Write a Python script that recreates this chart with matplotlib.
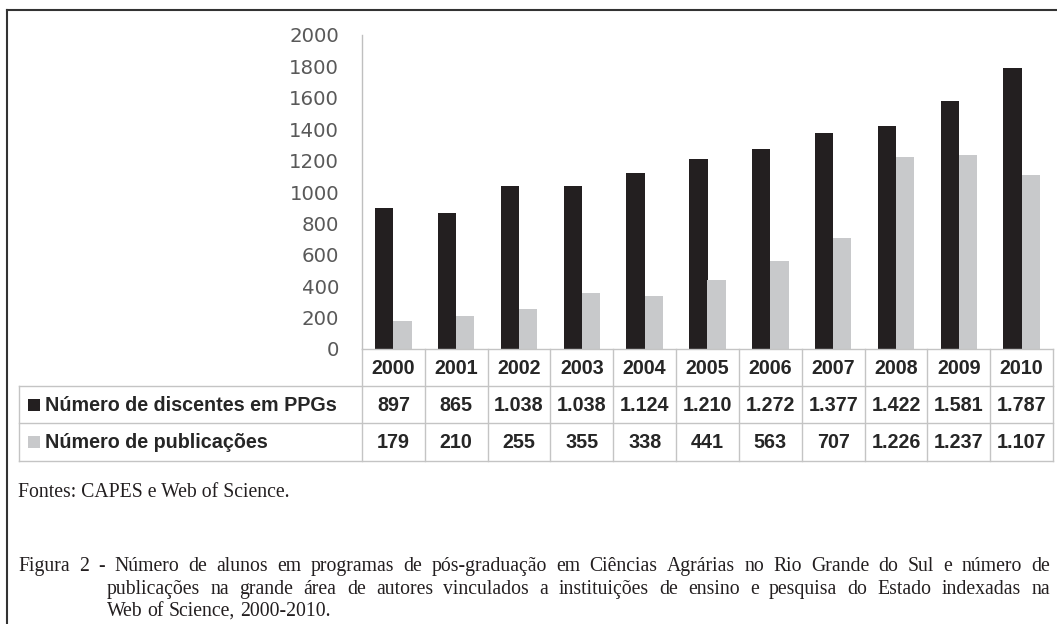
import matplotlib
matplotlib.use("Agg")
import matplotlib.pyplot as plt
from matplotlib import font_manager
from matplotlib.patches import Rectangle
from matplotlib.lines import Line2D

# ---------------- data ----------------
years = ["2000", "2001", "2002", "2003", "2004", "2005", "2006", "2007", "2008", "2009", "2010"]
discentes = [897, 865, 1038, 1038, 1124, 1210, 1272, 1377, 1422, 1581, 1787]
publicacoes = [179, 210, 255, 355, 338, 441, 563, 707, 1226, 1237, 1107]
series_labels = ["Número de discentes em PPGs", "Número de publicações"]
yticks = [0, 200, 400, 600, 800, 1000, 1200, 1400, 1600, 1800, 2000]
fonte_text = "Fontes: CAPES e Web of Science."
caption_lines = [
    "Figura 2 - Número de alunos em programas de pós-graduação em Ciências Agrárias no Rio Grande do Sul e número de",
    "publicações na grande área de autores vinculados a instituições de ensino e pesquisa do Estado indexadas na",
    "Web of Science, 2000-2010.",
]

BLACK = "#231f20"
GRAY = "#c8c9cb"
GRID = "#c4c4c4"

names = {f.name for f in font_manager.fontManager.ttflist}
TABLE_FONT = "Liberation Sans Narrow" if "Liberation Sans Narrow" in names else "Liberation Sans"
TABLE_SIZE = 16.5 if TABLE_FONT == "Liberation Sans Narrow" else 14.2

W, H = 1057, 624
fig = plt.figure(figsize=(W / 100, H / 100), dpi=100)

def fx(px):
    return px / W

def fy(py):
    return 1 - py / H

# ---------------- main axes ----------------
ax_left, ax_right = 362, 1053
ax_top, ax_bot = 35, 349
ax = fig.add_axes([fx(ax_left), fy(ax_bot), (ax_right - ax_left) / W, (ax_bot - ax_top) / H])
n = len(years)
x = list(range(n))
bw = 0.29
ax.bar([i - bw / 2 for i in x], discentes, width=bw, color=BLACK, linewidth=0)
ax.bar([i + bw / 2 for i in x], publicacoes, width=bw, color=GRAY, linewidth=0)
ax.set_xlim(-0.5, n - 0.5)
ax.set_ylim(0, 2000)
ax.set_yticks(yticks)
ax.set_yticklabels([str(v) for v in yticks], family="DejaVu Sans", fontsize=14.2, color="#595959")
ax.tick_params(axis="y", length=0, pad=16.5)
ax.set_xticks([])
for s in ["top", "right", "bottom"]:
    ax.spines[s].set_visible(False)
ax.spines["left"].set_color("#bfbfbf")
ax.spines["left"].set_linewidth(1.0)
ax.patch.set_alpha(0)

# ---------------- table (pixel overlay) ----------------
ov = fig.add_axes([0, 0, 1, 1])
ov.set_xlim(0, W)
ov.set_ylim(H, 0)
ov.axis("off")
ov.patch.set_alpha(0)

col_w = (ax_right - ax_left) / n
rows_y = [349, 386, 423, 461]
lbl_left = 19

def hline(x0, x1, y, color=GRID, lw=1.0):
    ov.add_line(Line2D([x0, x1], [y, y], color=color, lw=lw))

def vline(xv, y0, y1, color=GRID, lw=1.0):
    ov.add_line(Line2D([xv, xv], [y0, y1], color=color, lw=lw))

hline(ax_left, ax_right, rows_y[0])
for yv in rows_y[1:]:
    hline(lbl_left, ax_right, yv)
vline(lbl_left, rows_y[1], rows_y[3])
for i in range(n + 1):
    vline(ax_left + i * col_w, rows_y[0], rows_y[3])

def fmt(v):
    return f"{v:,}".replace(",", ".")

tk = dict(family=[TABLE_FONT, "DejaVu Sans"], fontsize=TABLE_SIZE, fontweight="bold",
          color="#262626", ha="center", va="center")
for i in range(n):
    cx = ax_left + (i + 0.5) * col_w
    ov.text(cx, (rows_y[0] + rows_y[1]) / 2 + 1, years[i], **tk)
    ov.text(cx, (rows_y[1] + rows_y[2]) / 2 + 1, fmt(discentes[i]), **tk)
    ov.text(cx, (rows_y[2] + rows_y[3]) / 2 + 1, fmt(publicacoes[i]), **tk)

for r, (lab, colr) in enumerate(zip(series_labels, [BLACK, GRAY])):
    yc = (rows_y[r + 1] + rows_y[r + 2]) / 2
    ov.add_patch(Rectangle((28, yc - 6), 12, 12, color=colr, lw=0))
    ov.text(45, yc + 1, lab, **dict(tk, ha="left"))

# ---------------- frame ----------------
ov.add_line(Line2D([7, W], [10, 10], color="#333333", lw=1.5))
ov.add_line(Line2D([7, 7], [10, H], color="#333333", lw=1.5))

# ---------------- captions ----------------
cap = dict(family=["Liberation Serif", "DejaVu Serif"], fontsize=14.2, color="#231f20",
           va="baseline", ha="left")
ov.text(18, 497, fonte_text, **cap)

fig.canvas.draw()
renderer = fig.canvas.get_renderer()

def justified(line, x0, x1, y, justify=True):
    words = line.split(" ")
    arts = [ov.text(0, y, w, **cap) for w in words]
    widths = [a.get_window_extent(renderer).width for a in arts]
    sp = ov.text(0, y, "a a", **cap)
    sp2 = ov.text(0, y, "aa", **cap)
    normal_gap = sp.get_window_extent(renderer).width - sp2.get_window_extent(renderer).width
    sp.remove(); sp2.remove()
    gap = normal_gap
    if justify and len(words) > 1:
        gap = (x1 - x0 - sum(widths)) / (len(words) - 1)
    xc = x0
    for a, wv in zip(arts, widths):
        a.set_x(xc)
        xc += wv + gap

justified(caption_lines[0], 18, 1050, 571)
justified(caption_lines[1], 107, 1050, 594)
justified(caption_lines[2], 107, 1050, 616, justify=False)

fig.savefig("out.png", dpi=100)
